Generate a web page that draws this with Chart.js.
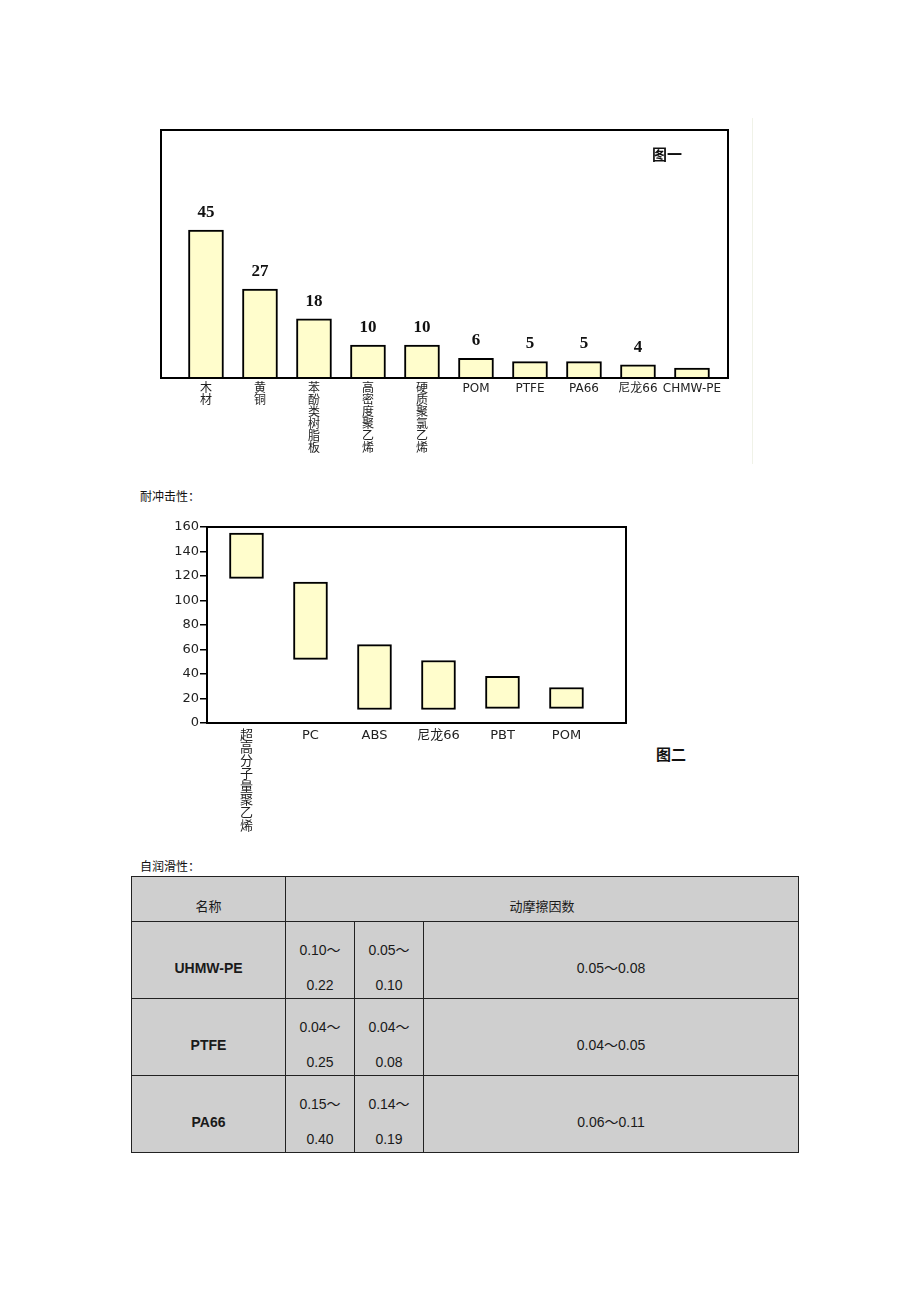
<!DOCTYPE html>
<html>
<head>
<meta charset="utf-8">
<script src="https://cdn.jsdelivr.net/npm/chart.js@4/dist/chart.umd.min.js"></script>
<style>
    body { margin: 0; background: #fff; width: 920px; height: 1302px; position: relative; font-family: "Noto Sans CJK SC", sans-serif; color: #111; }
    .abs { position: absolute; }
    .fig { font-size: 15px; font-weight: bold; line-height: 15px; }
    .sec { font-size: 12px; line-height: 14px; }
    #tbl { position: absolute; left: 131px; top: 876px; width: 668px; border-collapse: collapse; background: #cfcfcf; table-layout: fixed; }
    #tbl td { border: 1px solid #222; text-align: center; font-family: "Liberation Sans", "Noto Sans CJK SC", sans-serif; font-size: 14px; color: #1a1a1a; padding: 0; vertical-align: top; }
    #tbl td > div { box-sizing: border-box; line-height: 35px; overflow: visible; }
    #tbl tr.head td > div { height: 44px; padding-top: 11px; font-family: "Noto Sans CJK SC", sans-serif; font-size: 13px; }
    #tbl tr.row td > div { height: 76px; padding-top: 29px; }
    #tbl tr.row td > div.two { padding-top: 11px; }
    #tbl td.name { font-weight: bold; }
</style>
</head>
<body>
<div class="abs" style="left:752px;top:118px;width:1px;height:346px;background:#f0f2e8"></div>
<canvas id="wearChart" width="620" height="360" style="position:absolute;left:140px;top:110px"></canvas>
<div class="abs fig" style="left:652px;top:146px">图一</div>

<div class="abs sec" style="left:140px;top:489px">耐冲击性：</div>
<canvas id="impactChart" width="500" height="330" style="position:absolute;left:150px;top:515px"></canvas>
<div class="abs fig" style="left:656px;top:746px">图二</div>

<div class="abs sec" style="left:140px;top:859px">自润滑性：</div>
<table id="tbl"><colgroup><col style="width:154px"><col style="width:69px"><col style="width:69px"><col></colgroup><tbody></tbody></table>

<script>
// 图一：磨耗量
const wearCategories = ['木材', '黄铜', '苯酚类树脂板', '高密度聚乙烯', '硬质聚氯乙烯', 'POM', 'PTFE', 'PA66', '尼龙66', 'CHMW-PE'];
const wearValues = [45, 27, 18, 10, 10, 6, 5, 5, 4, 3];
const wearValueLabels = ['45', '27', '18', '10', '10', '6', '5', '5', '4', ''];

// 图二：耐冲击性 (范围)
const impactCategories = ['超高分子量聚乙烯', 'PC', 'ABS', '尼龙66', 'PBT', 'POM'];
const impactLow = [118, 52, 11, 11, 12, 12];
const impactHigh = [155, 115, 64, 51, 38, 29];
const impactTicks = [0, 20, 40, 60, 80, 100, 120, 140, 160];

// 自润滑性表
const tableNames = ['UHMW-PE', 'PTFE', 'PA66'];
const frictionA = [['0.10～', '0.22'], ['0.04～', '0.25'], ['0.15～', '0.40']];
const frictionB = [['0.05～', '0.10'], ['0.04～', '0.08'], ['0.14～', '0.19']];
const frictionC = ['0.05～0.08', '0.04～0.05', '0.06～0.11'];

// pure Chinese labels are written top to bottom
const splitLabel = s => /^[\u4e00-\u9fff]+$/.test(s) ? Array.from(s) : s;

const framePlugin = {
    id: 'frame',
    afterDraw(chart) {
        const { ctx, chartArea: a } = chart;
        ctx.save();
        ctx.strokeStyle = '#000';
        ctx.lineWidth = 2;
        ctx.strokeRect(a.left, a.top, a.right - a.left, a.bottom - a.top);
        ctx.restore();
    }
};

const valueLabels = {
    id: 'valueLabels',
    afterDatasetsDraw(chart) {
        const ctx = chart.ctx;
        ctx.save();
        ctx.font = 'bold 17px "Liberation Serif", serif';
        ctx.fillStyle = '#111';
        ctx.textAlign = 'center';
        ctx.textBaseline = 'bottom';
        chart.getDatasetMeta(0).data.forEach((bar, i) => {
            ctx.fillText(wearValueLabels[i], bar.x, bar.y - 9);
        });
        ctx.restore();
    }
};

const barFill = '#fffdcc';

new Chart(document.getElementById('wearChart'), {
    type: 'bar',
    data: {
        datasets: [{
            data: wearValues.map((v, i) => ({ x: i, y: v })),
            backgroundColor: barFill,
            borderColor: '#000',
            borderWidth: 2,
            barThickness: 35
        }]
    },
    options: {
        responsive: false,
        animation: false,
        devicePixelRatio: 1,
        layout: { padding: { left: 21, top: 20, right: 32, bottom: 0 } },
        plugins: { legend: { display: false }, tooltip: { enabled: false } },
        scales: {
            x: {
                type: 'linear',
                offset: false,
                min: -0.833,
                max: 9.667,
                afterBuildTicks: s => { s.ticks = wearCategories.map((c, i) => ({ value: i })); },
                afterFit: s => { s.height = 92; },
                grid: { display: false, drawTicks: false, offset: false },
                border: { display: false },
                ticks: {
                    autoSkip: false,
                    maxRotation: 0,
                    padding: 5,
                    color: '#222',
                    font: { family: '"DejaVu Sans", "Noto Sans CJK SC"', size: 12, lineHeight: 1 },
                    callback: v => splitLabel(wearCategories[v])
                }
            },
            y: { display: false, min: 0, max: 75.4 }
        }
    },
    plugins: [framePlugin, valueLabels]
});

new Chart(document.getElementById('impactChart'), {
    type: 'bar',
    data: {
        datasets: [{
            data: impactCategories.map((c, i) => ({ x: i, y: [impactLow[i], impactHigh[i]] })),
            backgroundColor: barFill,
            borderColor: '#000',
            borderWidth: 2,
            borderSkipped: false,
            barThickness: 34
        }]
    },
    options: {
        responsive: false,
        animation: false,
        devicePixelRatio: 1,
        layout: { padding: { left: 0, top: 12, right: 24, bottom: 0 } },
        plugins: { legend: { display: false }, tooltip: { enabled: false } },
        scales: {
            x: {
                type: 'linear',
                offset: false,
                min: -0.617,
                max: 5.93,
                afterBuildTicks: s => { s.ticks = impactCategories.map((c, i) => ({ value: i })); },
                afterFit: s => { s.height = 122; },
                grid: { display: false, drawTicks: false, offset: false },
                border: { display: false },
                ticks: {
                    autoSkip: false,
                    maxRotation: 0,
                    padding: 6,
                    color: '#222',
                    font: { family: '"DejaVu Sans", "Noto Sans CJK SC"', size: 13, lineHeight: 1 },
                    callback: v => splitLabel(impactCategories[v])
                }
            },
            y: {
                min: 0,
                max: 160,
                afterBuildTicks: s => { s.ticks = impactTicks.map(v => ({ value: v })); },
                afterFit: s => { s.width = 57; },
                border: { display: false },
                grid: { drawOnChartArea: false, drawTicks: true, tickLength: 7, color: '#000', lineWidth: 1.5 },
                ticks: {
                    padding: 1,
                    color: '#222',
                    font: { family: '"DejaVu Sans"', size: 13 }
                }
            }
        }
    },
    plugins: [framePlugin]
});

// table
const cell = (txt, cls) => '<td' + (cls ? ' class="' + cls + '"' : '') + '><div' +
    (Array.isArray(txt) ? ' class="two">' + txt.join('<br>') : '>' + txt) + '</div></td>';
const tbody = document.querySelector('#tbl tbody');
tbody.innerHTML = '<tr class="head"><td><div>名称</div></td><td colspan="3"><div>动摩擦因数</div></td></tr>' +
    tableNames.map((n, i) =>
        '<tr class="row">' + cell(n, 'name') + cell(frictionA[i]) + cell(frictionB[i]) + cell(frictionC[i]) + '</tr>'
    ).join('');
</script>
</body>
</html>
